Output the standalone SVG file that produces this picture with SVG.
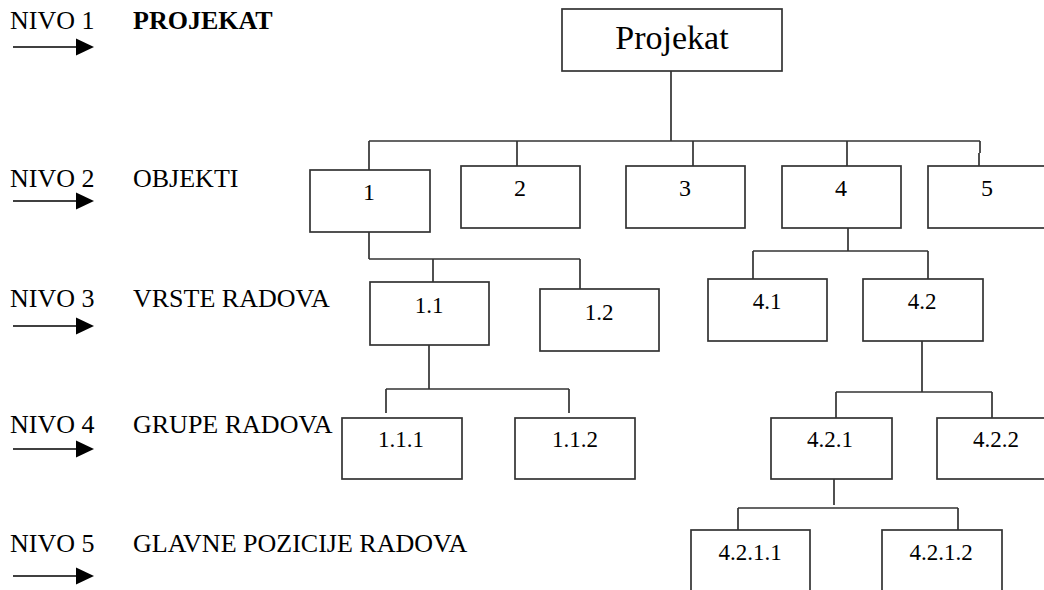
<svg xmlns="http://www.w3.org/2000/svg" width="1044" height="590" viewBox="0 0 1044 590">
<defs>
<style>
.bx{fill:#fff;stroke:#333;stroke-width:1.7}
.ln{fill:none;stroke:#333;stroke-width:1.7}
.t{font-family:"Liberation Serif","Times New Roman",serif;fill:#000;text-anchor:middle}
.lv{font-family:"Liberation Serif","Times New Roman",serif;fill:#000;font-size:26px}
.ar{stroke:#000;stroke-width:1.5}
</style>
<g id="arrowShape">
<line class="ar" x1="13" y1="0" x2="80" y2="0"/>
<polygon points="76,-8.5 94,0 76,8.5" fill="#000"/>
</g>
</defs>
<rect width="1044" height="590" fill="#fff"/>

<g id="levels">
<text class="lv" x="10" y="29">NIVO 1</text>
<text class="lv" x="133" y="29" font-weight="bold">PROJEKAT</text>
<use href="#arrowShape" y="47"/>
<text class="lv" x="10" y="187">NIVO 2</text>
<text class="lv" x="133" y="187">OBJEKTI</text>
<use href="#arrowShape" y="201"/>
<text class="lv" x="10" y="307">NIVO 3</text>
<text class="lv" x="133" y="307">VRSTE RADOVA</text>
<use href="#arrowShape" y="326"/>
<text class="lv" x="10" y="433">NIVO 4</text>
<text class="lv" x="133" y="433">GRUPE RADOVA</text>
<use href="#arrowShape" y="449"/>
<text class="lv" x="10" y="552">NIVO 5</text>
<text class="lv" x="133" y="552">GLAVNE POZICIJE RADOVA</text>
<use href="#arrowShape" y="576"/>
</g>

<g id="connectors">
<path class="ln" d="M671 71V141 M369 141H980 M369 141V170 M517 141V166 M693 141V166 M847 141V166 M980 141V153 M979 153V166"/>
<path class="ln" d="M369 232V259 M369 259H580 M433 259V282 M580 259V289"/>
<path class="ln" d="M848 228V251 M753 251H928 M753 251V279 M928 251V279"/>
<path class="ln" d="M429 345V389 M386 389H569 M386 389V413 M569 389V413"/>
<path class="ln" d="M922 341V392 M836 392H992 M836 392V418 M992 392V418"/>
<path class="ln" d="M834 479V505 M738 508H958 M738 508V530 M958 508V530"/>
</g>

<g id="n-projekat"><rect class="bx" x="562" y="9" width="220" height="62"/><text class="t" x="672" y="49" font-size="34">Projekat</text></g>

<g id="n-1"><rect class="bx" x="310" y="170" width="120" height="62"/><text class="t" x="369" y="200" font-size="24">1</text></g>
<g id="n-2"><rect class="bx" x="461" y="166" width="119" height="62"/><text class="t" x="520" y="196" font-size="24">2</text></g>
<g id="n-3"><rect class="bx" x="626" y="166" width="119" height="62"/><text class="t" x="685" y="196" font-size="24">3</text></g>
<g id="n-4"><rect class="bx" x="782" y="166" width="119" height="62"/><text class="t" x="841" y="196" font-size="24">4</text></g>
<g id="n-5"><rect class="bx" x="928" y="166" width="120" height="62"/><text class="t" x="987" y="196" font-size="24">5</text></g>

<g id="n-1-1"><rect class="bx" x="370" y="282" width="119" height="63"/><text class="t" x="429" y="313" font-size="23">1.1</text></g>
<g id="n-1-2"><rect class="bx" x="540" y="289" width="119" height="62"/><text class="t" x="599" y="320" font-size="23">1.2</text></g>
<g id="n-4-1"><rect class="bx" x="708" y="279" width="119" height="62"/><text class="t" x="767" y="309" font-size="23">4.1</text></g>
<g id="n-4-2"><rect class="bx" x="863" y="279" width="120" height="62"/><text class="t" x="922" y="309" font-size="23">4.2</text></g>

<g id="n-1-1-1"><rect class="bx" x="342" y="418" width="120" height="61"/><text class="t" x="401" y="447" font-size="23">1.1.1</text></g>
<g id="n-1-1-2"><rect class="bx" x="515" y="418" width="120" height="61"/><text class="t" x="575" y="447" font-size="23">1.1.2</text></g>
<g id="n-4-2-1"><rect class="bx" x="771" y="418" width="121" height="61"/><text class="t" x="830" y="447" font-size="23">4.2.1</text></g>
<g id="n-4-2-2"><rect class="bx" x="937" y="418" width="120" height="61"/><text class="t" x="996" y="447" font-size="23">4.2.2</text></g>

<g id="n-4-2-1-1"><rect class="bx" x="691" y="530" width="119" height="70"/><text class="t" x="750" y="560" font-size="23">4.2.1.1</text></g>
<g id="n-4-2-1-2"><rect class="bx" x="882" y="530" width="120" height="70"/><text class="t" x="941" y="560" font-size="23">4.2.1.2</text></g>
</svg>
